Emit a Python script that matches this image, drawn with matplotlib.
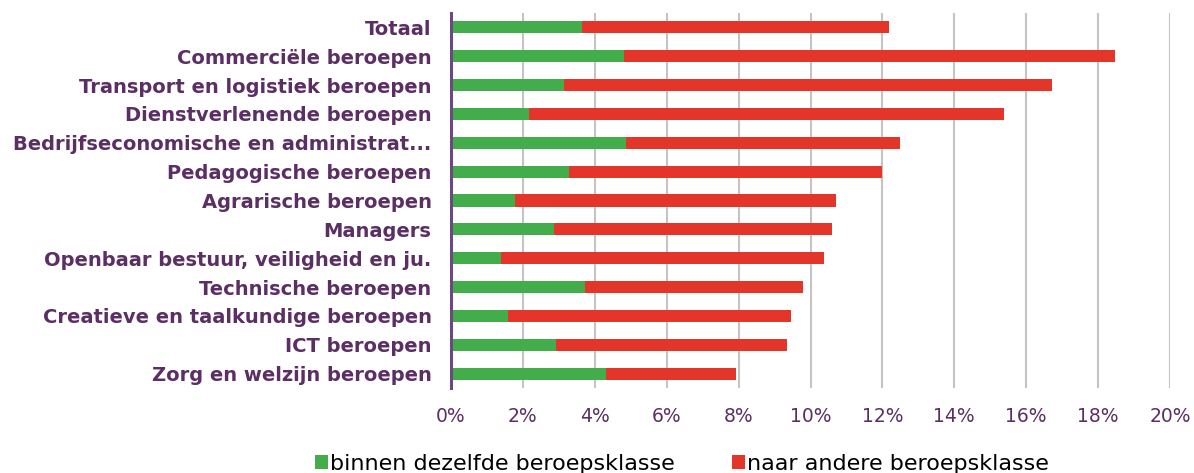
import numpy as np
import matplotlib.pyplot as plt
from matplotlib.ticker import FuncFormatter

categories = ["Totaal", "Commerciële beroepen", "Transport en logistiek beroepen",
              "Dienstverlenende beroepen", "Bedrijfseconomische en administrat...",
              "Pedagogische beroepen", "Agrarische beroepen", "Managers",
              "Openbaar bestuur, veiligheid en ju.", "Technische beroepen",
              "Creatieve en taalkundige beroepen", "ICT beroepen",
              "Zorg en welzijn beroepen"]
binnen = [3.64, 4.81, 3.14, 2.18, 4.87, 3.28, 1.79, 2.86, 1.38, 3.73, 1.59, 2.93, 4.30]
totaal = [12.18, 18.47, 16.72, 15.38, 12.48, 11.99, 10.70, 10.60, 10.37, 9.78, 9.46, 9.36, 7.94]
naar = [t - b for t, b in zip(totaal, binnen)]
xticks = [0, 2, 4, 6, 8, 10, 12, 14, 16, 18, 20]

green = "#43ad4b"
red = "#e33529"
purple = "#5b2e64"

fig = plt.figure(figsize=(11.94, 4.73), dpi=100)
ax = fig.add_axes([451/1194, 1-388/473, 719/1194, 375/473])

y = np.arange(len(categories))
ax.barh(y, binnen, height=0.42, color=green, label="binnen dezelfde beroepsklasse", zorder=3)
ax.barh(y, naar, left=binnen, height=0.42, color=red, label="naar andere beroepsklasse", zorder=3)

ax.set_xlim(0, 20)
ax.set_ylim(len(categories) - 0.5, -0.5)
ax.set_xticks(xticks)
ax.xaxis.set_major_formatter(FuncFormatter(lambda v, p: f"{v:.0f}%"))
ax.set_yticks(y)
ax.set_yticklabels(categories, fontsize=14, fontweight="bold", color=purple)
ax.tick_params(axis="x", length=0, labelsize=13.5, labelcolor=purple, pad=14)
ax.tick_params(axis="y", length=0, pad=14)
ax.grid(axis="x", color="#c4c4c4", linewidth=1.5, zorder=0)

for s in ["top", "right", "bottom"]:
    ax.spines[s].set_visible(False)
ax.spines["left"].set_color("#6a4a7e")
ax.spines["left"].set_linewidth(2.2)
ax.spines["left"].set_zorder(4)

fig.legend(loc="center", bbox_to_anchor=(682/1194, 1-464/473), ncol=2, frameon=False,
           fontsize=16, handlelength=0.55, handleheight=0.55, handletextpad=0.1,
           columnspacing=2.6)

plt.savefig("out.png", dpi=100)
